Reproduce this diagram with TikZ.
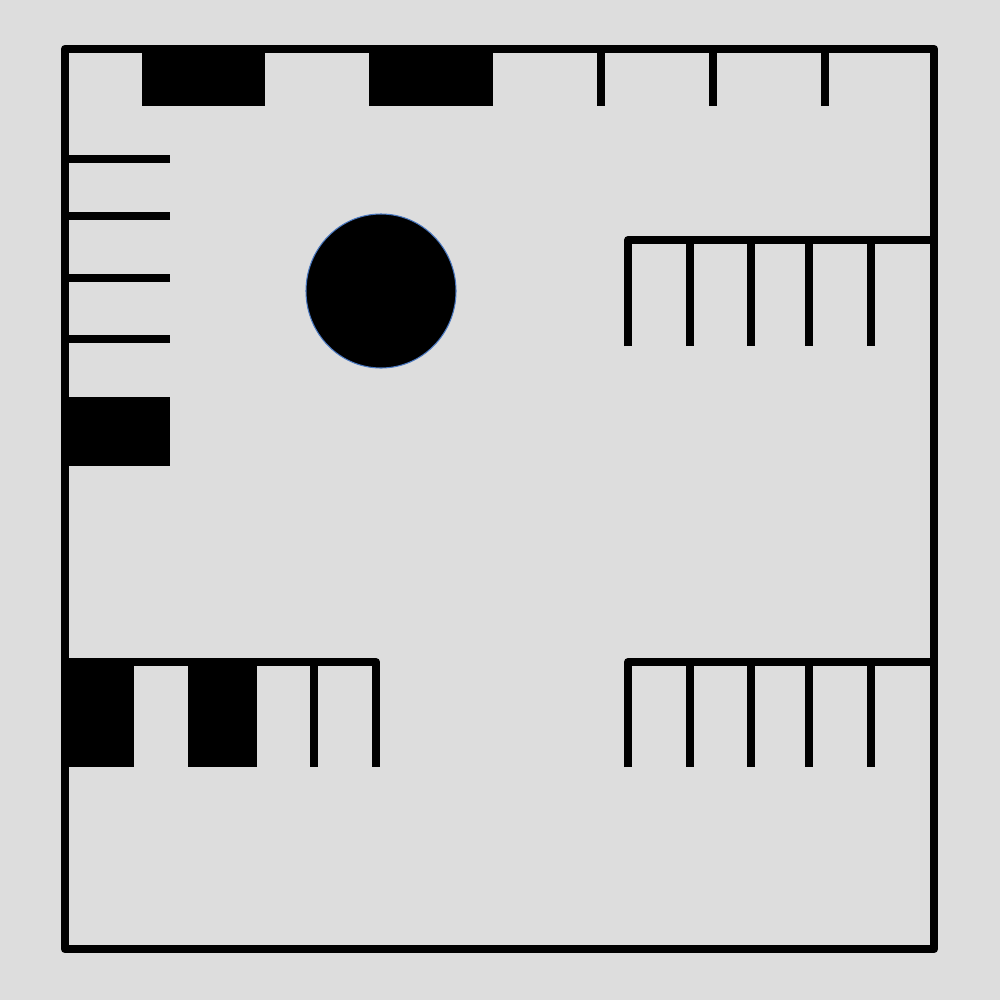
\documentclass[tikz,border=0pt]{standalone}
\usepackage{xcolor}
\usepackage{tikz}
\definecolor{cFloor}{HTML}{DDDDDD}
\definecolor{cWall}{HTML}{000000}
\definecolor{cRim}{HTML}{4A78C0}
\tikzset{
  wall/.style={draw=cWall,line width=2.4pt,line join=round},
  bay/.style={draw=cWall,line width=2.3pt,line join=round},
  slab/.style={fill=cWall},
  pillar/.style={fill=cWall,draw=cRim,line width=0.3pt},
}
\begin{document}
\begin{tikzpicture}[x=0.01cm,y=-0.01cm]
  \fill[cFloor] (0,0) rectangle (1000,1000);
  \useasboundingbox (0,0) rectangle (1000,1000);
  % filled bays along the top wall
  \fill[slab] (142,50) rectangle (265,106);
  \fill[slab] (369,50) rectangle (493,106);
  \foreach \x in {601,713,825} \draw[bay] (\x,50) -- (\x,106);
  % left wall bays
  \foreach \y in {159,216,278,339} \draw[bay] (66,\y) -- (170,\y);
  \fill[slab] (66,397) rectangle (170,466);
  % column
  \draw[pillar] (381,291) ellipse (75 and 77);
  % right bay rows
  \foreach \y/\yb in {240/346,662/767} {
    \draw[bay] (628,\yb) -- (628,\y) -- (934,\y);
    \foreach \x in {690,751,809,871} \draw[bay] (\x,\y) -- (\x,\yb);
  }
  % lower left bay row
  \fill[slab] (66,662) rectangle (134,767);
  \fill[slab] (188,662) rectangle (257,767);
  \draw[bay] (66,662) -- (376,662) -- (376,767);
  \draw[bay] (314,662) -- (314,767);
  % outer wall
  \draw[wall] (65,49) rectangle (934,949);
\end{tikzpicture}
\end{document}
